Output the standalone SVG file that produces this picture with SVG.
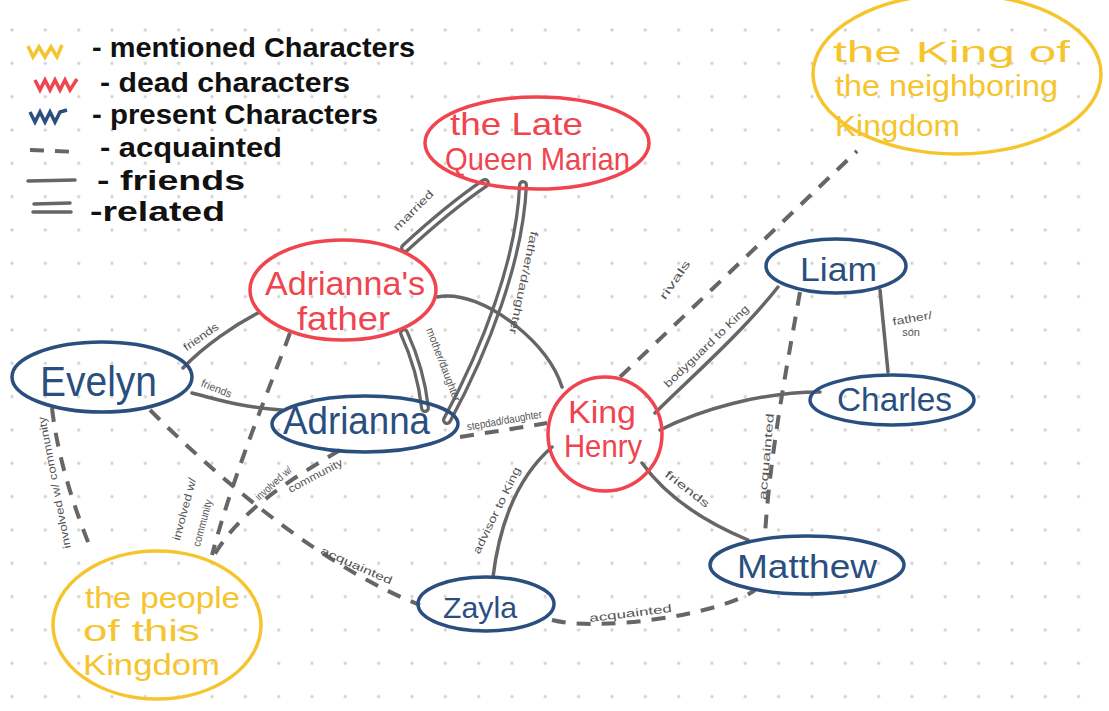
<svg xmlns="http://www.w3.org/2000/svg" width="1109" height="711" viewBox="0 0 1109 711">
<style>
.bg{fill:#ffffff}
.dead{fill:none;stroke:#f0444f;stroke-width:3.5}
.live{fill:none;stroke:#2a4f7f;stroke-width:3.5}
.ment{fill:none;stroke:#f6c42c;stroke-width:3.5}
.tdead{fill:#f0444f;font-family:"Liberation Sans",Arial,sans-serif}
.tlive{fill:#2a4f7f;font-family:"Liberation Sans",Arial,sans-serif}
.tment{fill:#f6c42c;font-family:"Liberation Sans",Arial,sans-serif}
.fr{fill:none;stroke:#666;stroke-width:3.5;stroke-linecap:round}
.ac{fill:none;stroke:#666;stroke-width:4;stroke-dasharray:14 11}
.relo{fill:none;stroke:#666;stroke-width:10;stroke-linecap:round}
.reli{fill:none;stroke:#fff;stroke-width:3.5;stroke-linecap:round}
.lbl{fill:#555;font-family:"Liberation Sans",Arial,sans-serif;font-size:11px}
.leg{fill:#111;font-family:"Liberation Sans",Arial,sans-serif;font-size:27px;font-weight:bold}
</style>
<defs>
<pattern id="dots" patternUnits="userSpaceOnUse" x="-4.67" y="13.33" width="33.33" height="33.33">
<circle cx="16.67" cy="16.67" r="1.6" fill="#cfcfcf"/>
</pattern>
</defs>
<rect class="bg" width="1109" height="711"/>
<rect width="1109" height="711" fill="url(#dots)"/>

<g id="legend">
<polyline points="28,46 33,57 39,47 45,57 51,47 57,57 62,45" fill="none" stroke="#f6c42c" stroke-width="3.5"/>
<polyline points="35,80 40,90 45,80 50,90 55,80 60,90 65,80 70,90 77,79" fill="none" stroke="#f0444f" stroke-width="3.5"/>
<polyline points="30,112 35,122 40,112 45,122 50,112 55,122 60,112 67,110" fill="none" stroke="#2a4f7f" stroke-width="3.5"/>
<path d="M30,150 L78,152" class="ac" stroke-dasharray="9 6"/>
<path d="M28,181 L75,180" class="fr"/>
<path d="M34,204 L70,203 M33,212 L71,212" class="fr"/>
<text class="leg" x="92" y="57" textLength="323" lengthAdjust="spacingAndGlyphs">-  mentioned Characters</text>
<text class="leg" x="100" y="92" textLength="250" lengthAdjust="spacingAndGlyphs">-  dead characters</text>
<text class="leg" x="92" y="124" textLength="286" lengthAdjust="spacingAndGlyphs">-  present Characters</text>
<text class="leg" x="100" y="157" textLength="182" lengthAdjust="spacingAndGlyphs">-  acquainted</text>
<text class="leg" x="97" y="190" textLength="148" lengthAdjust="spacingAndGlyphs">-  friends</text>
<text class="leg" x="90" y="221" textLength="135" lengthAdjust="spacingAndGlyphs">-related</text>
</g>

<g id="connectors">
<path class="relo" d="M485,183 C460,200 430,225 405,248"/>
<path class="reli" d="M485,183 C460,200 430,225 405,248"/>
<path class="relo" d="M523,185 C520,260 485,350 447,420"/>
<path class="reli" d="M523,185 C520,260 485,350 447,420"/>
<path class="relo" d="M404,333 C414,355 422,380 425,408"/>
<path class="reli" d="M404,333 C414,355 422,380 425,408"/>
<path class="fr" d="M437,297 C460,292 490,305 515,325 C540,345 555,365 562,387"/>
<path class="ac" d="M460,437 C490,432 520,428 547,423"/>
<path class="fr" d="M183,368 C205,345 235,325 258,313"/>
<path class="fr" d="M192,393 C220,400 240,407 282,410"/>
<path class="ac" d="M52,408 C58,460 75,510 92,552"/>
<path class="ac" d="M290,333 C265,400 235,470 212,555"/>
<path class="ac" d="M340,450 C290,480 240,510 213,557"/>
<path class="ac" d="M150,410 C230,490 330,570 420,605"/>
<path class="fr" d="M552,447 C520,475 500,520 493,577"/>
<path class="fr" d="M642,463 C665,495 700,520 748,540"/>
<path class="ac" d="M552,620 C600,632 720,615 755,590"/>
<path class="fr" d="M655,413 C690,378 740,335 778,287"/>
<path class="fr" d="M660,430 C700,410 760,392 820,392"/>
<path class="fr" d="M880,290 L888,372"/>
<path class="ac" d="M800,292 C790,350 770,450 765,535"/>
<path class="ac" d="M620,377 L857,151"/>

<text class="lbl" transform="translate(416,213) rotate(-45)" text-anchor="middle" textLength="52" lengthAdjust="spacingAndGlyphs">married</text>
<text class="lbl" transform="translate(520,282) rotate(102)" text-anchor="middle" textLength="105" lengthAdjust="spacingAndGlyphs">father/daughter</text>
<text class="lbl" transform="translate(440,366) rotate(69)" text-anchor="middle" textLength="78" lengthAdjust="spacingAndGlyphs">mother/daughter</text>
<text class="lbl" transform="translate(505,424) rotate(-10)" text-anchor="middle" textLength="76" lengthAdjust="spacingAndGlyphs">stepdad/daughter</text>
<text class="lbl" transform="translate(203,340) rotate(-35)" text-anchor="middle" textLength="40" lengthAdjust="spacingAndGlyphs">friends</text>
<text class="lbl" transform="translate(215,392) rotate(22)" text-anchor="middle" textLength="32" lengthAdjust="spacingAndGlyphs">friends</text>
<text class="lbl" transform="translate(58,482) rotate(-101)" text-anchor="middle" textLength="134" lengthAdjust="spacingAndGlyphs">involved w/ community</text>
<text class="lbl" transform="translate(188,510) rotate(-75)" text-anchor="middle" textLength="64" lengthAdjust="spacingAndGlyphs">involved w/</text>
<text class="lbl" transform="translate(206,524) rotate(-75)" text-anchor="middle" textLength="48" lengthAdjust="spacingAndGlyphs">community</text>
<text class="lbl" transform="translate(276,486) rotate(-42)" text-anchor="middle" textLength="45" lengthAdjust="spacingAndGlyphs">involved w/</text>
<text class="lbl" transform="translate(317,479) rotate(-28)" text-anchor="middle" textLength="60" lengthAdjust="spacingAndGlyphs">community</text>
<text class="lbl" transform="translate(355,569) rotate(24)" text-anchor="middle" textLength="77" lengthAdjust="spacingAndGlyphs">acquainted</text>
<text class="lbl" transform="translate(500,512) rotate(-64)" text-anchor="middle" textLength="95" lengthAdjust="spacingAndGlyphs">advisor to King</text>
<text class="lbl" transform="translate(685,492) rotate(38)" text-anchor="middle" textLength="53" lengthAdjust="spacingAndGlyphs">friends</text>
<text class="lbl" transform="translate(631,617) rotate(-7)" text-anchor="middle" textLength="83" lengthAdjust="spacingAndGlyphs">acquainted</text>
<text class="lbl" transform="translate(709,349) rotate(-44)" text-anchor="middle" textLength="113" lengthAdjust="spacingAndGlyphs">bodyguard to King</text>
<text class="lbl" transform="translate(913,322) rotate(-10)" text-anchor="middle" textLength="40" lengthAdjust="spacingAndGlyphs">father/</text>
<text class="lbl" x="911" y="336" text-anchor="middle">son</text>
<text class="lbl" transform="translate(770,457) rotate(-85)" text-anchor="middle" textLength="87" lengthAdjust="spacingAndGlyphs">acquainted</text>
<text class="lbl" transform="translate(678,282) rotate(-55)" text-anchor="middle" textLength="45" lengthAdjust="spacingAndGlyphs">rivals</text>
</g>

<g id="queen-marian">
<ellipse class="dead" cx="537" cy="143" rx="112" ry="46"/>
<text class="tdead" x="450" y="135" font-size="32" textLength="133" lengthAdjust="spacingAndGlyphs">the Late</text>
<text class="tdead" x="445" y="170" font-size="32" textLength="185" lengthAdjust="spacingAndGlyphs">Queen Marian</text>
</g>

<g id="king-neighboring">
<ellipse class="ment" cx="957" cy="74" rx="144" ry="80"/>
<text class="tment" x="833" y="62" font-size="30" textLength="237" lengthAdjust="spacingAndGlyphs">the King of</text>
<text class="tment" x="835" y="96" font-size="29" textLength="223" lengthAdjust="spacingAndGlyphs">the neighboring</text>
<text class="tment" x="835" y="136" font-size="30" textLength="125" lengthAdjust="spacingAndGlyphs">Kingdom</text>
</g>

<g id="adriannas-father">
<ellipse class="dead" cx="343" cy="290" rx="93" ry="50"/>
<text class="tdead" x="265" y="295" font-size="34" textLength="160" lengthAdjust="spacingAndGlyphs">Adrianna's</text>
<text class="tdead" x="297" y="330" font-size="34" textLength="93" lengthAdjust="spacingAndGlyphs">father</text>
</g>

<g id="evelyn">
<ellipse class="live" cx="102" cy="377" rx="90" ry="35"/>
<text class="tlive" x="40" y="396" font-size="42" textLength="117" lengthAdjust="spacingAndGlyphs">Evelyn</text>
</g>

<g id="adrianna">
<ellipse class="live" cx="365" cy="424" rx="93" ry="28"/>
<text class="tlive" x="283" y="434" font-size="38" textLength="147" lengthAdjust="spacingAndGlyphs">Adrianna</text>
</g>

<g id="king-henry">
<circle class="dead" cx="605" cy="434" r="57"/>
<text class="tdead" x="568" y="423" font-size="32" textLength="68" lengthAdjust="spacingAndGlyphs">King</text>
<text class="tdead" x="564" y="457" font-size="32" textLength="78" lengthAdjust="spacingAndGlyphs">Henry</text>
</g>

<g id="liam">
<ellipse class="live" cx="836" cy="266" rx="70" ry="27"/>
<text class="tlive" x="800" y="281" font-size="34" textLength="77" lengthAdjust="spacingAndGlyphs">Liam</text>
</g>

<g id="charles">
<ellipse class="live" cx="892" cy="400" rx="82" ry="25"/>
<text class="tlive" x="837" y="411" font-size="34" textLength="115" lengthAdjust="spacingAndGlyphs">Charles</text>
</g>

<g id="matthew">
<ellipse class="live" cx="807" cy="565" rx="97" ry="29"/>
<text class="tlive" x="737" y="578" font-size="34" textLength="140" lengthAdjust="spacingAndGlyphs">Matthew</text>
</g>

<g id="zayla">
<ellipse class="live" cx="486" cy="604" rx="68" ry="27"/>
<text class="tlive" x="443" y="618" font-size="30" textLength="74" lengthAdjust="spacingAndGlyphs">Zayla</text>
</g>

<g id="people">
<ellipse class="ment" cx="157" cy="625" rx="104" ry="74"/>
<text class="tment" x="85" y="608" font-size="30" textLength="155" lengthAdjust="spacingAndGlyphs">the people</text>
<text class="tment" x="83" y="641" font-size="30" textLength="117" lengthAdjust="spacingAndGlyphs">of this</text>
<text class="tment" x="83" y="675" font-size="30" textLength="137" lengthAdjust="spacingAndGlyphs">Kingdom</text>
</g>
</svg>
